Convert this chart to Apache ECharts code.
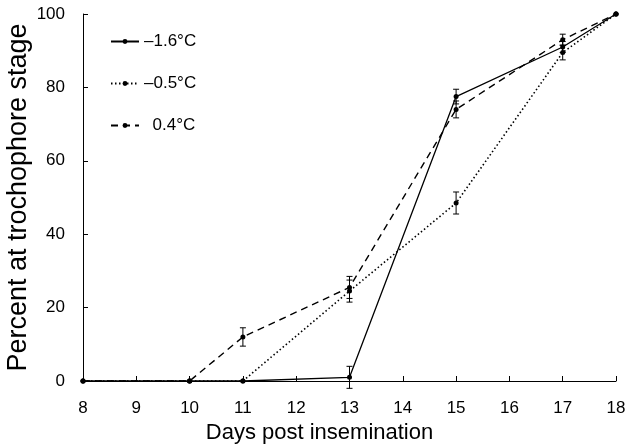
<!DOCTYPE html>
<html>
<head>
<meta charset="utf-8">
<script src="https://cdn.jsdelivr.net/npm/echarts@6/dist/echarts.min.js"></script>
<style>
  html, body { margin: 0; padding: 0; background: #fff; }
  #chart { width: 627px; height: 446px; }
</style>
</head>
<body>
<div id="chart"></div>
<script>
// days post insemination
var days = [8, 10, 11, 13, 15, 17, 18]

// percent at trochophore stage, per temperature
var minus16 = [0, 0, 0, 1, 77.5, 91, 100]
var minus05 = [0, 0, 0, 24.5, 48.5, 89.5, 100]
var plus04 = [0, 0, 12, 25.5, 74, 93, 100]

// error bar half-widths (0 = no bar drawn)
var minus16Err = [0, 0, 0, 3, 2, 1.5, 0]
var minus05Err = [0, 0, 0, 3, 3, 2, 0]
var plus04Err = [0, 0, 2.5, 3, 2.3, 1.5, 0]

var seriesNames = ['\u20131.6\u00b0C', '\u20130.5\u00b0C', '\u20020.4\u00b0C']

var xTicks = { min: 8, max: 18, interval: 1 }
var yTicks = { min: 0, max: 100, interval: 20 }

var font = 'Liberation Sans, Arial, Helvetica, sans-serif'

function pairs(values) {
  return days.map(function (d, i) { return [d, values[i]] })
}

function errData(values, errs) {
  var out = []
  days.forEach(function (d, i) {
    if (errs[i] > 0) out.push([d, values[i] - errs[i], values[i] + errs[i]])
  })
  return out
}

// draws a vertical error bar with small caps
function renderErr(params, api) {
  var lo = api.coord([api.value(0), api.value(1)])
  var hi = api.coord([api.value(0), api.value(2)])
  var w = 3
  var style = { stroke: '#000', lineWidth: 1 }
  return {
    type: 'group',
    children: [
      { type: 'line', shape: { x1: lo[0], y1: lo[1], x2: hi[0], y2: hi[1] }, style: style },
      { type: 'line', shape: { x1: lo[0] - w, y1: lo[1], x2: lo[0] + w, y2: lo[1] }, style: style },
      { type: 'line', shape: { x1: hi[0] - w, y1: hi[1], x2: hi[0] + w, y2: hi[1] }, style: style }
    ]
  }
}

function lineSeries(name, values, type, width) {
  return {
    name: name,
    type: 'line',
    data: pairs(values),
    symbol: 'circle',
    symbolSize: 5,
    itemStyle: { color: '#000' },
    lineStyle: { color: '#000', width: width, type: type },
    z: 3
  }
}

function errSeries(values, errs) {
  return {
    type: 'custom',
    renderItem: renderErr,
    data: errData(values, errs),
    encode: { x: 0, y: [1, 2] },
    silent: true,
    z: 4
  }
}

var chart = echarts.init(document.getElementById('chart'))

chart.setOption({
  animation: false,
  textStyle: { fontFamily: font, color: '#000' },
  grid: { left: 83, right: 11, top: 14, bottom: 65, outerBoundsMode: 'none', containLabel: false },
  legend: {
    orient: 'vertical',
    left: 105,
    top: 28,
    itemGap: 25,
    itemWidth: 28,
    itemHeight: 6,
    data: seriesNames,
    textStyle: { fontSize: 17, color: '#000', fontFamily: font }
  },
  xAxis: {
    type: 'value',
    min: xTicks.min,
    max: xTicks.max,
    interval: xTicks.interval,
    name: 'Days post insemination',
    nameLocation: 'middle',
    nameGap: 38,
    nameTextStyle: { fontSize: 22, color: '#000', padding: [0, 60, 0, 0] },
    axisLine: { lineStyle: { color: '#000', width: 1 } },
    axisTick: { inside: true, length: 5, lineStyle: { color: '#000' } },
    axisLabel: { fontSize: 17, color: '#000', margin: 19 },
    splitLine: { show: false }
  },
  yAxis: {
    type: 'value',
    min: yTicks.min,
    max: yTicks.max,
    interval: yTicks.interval,
    name: 'Percent at trochophore stage',
    nameLocation: 'middle',
    nameMoveOverlap: false,
    nameGap: 51,
    nameTextStyle: { fontSize: 27, color: '#000' },
    axisLine: { show: true, lineStyle: { color: '#000', width: 1 } },
    axisTick: { show: true, inside: true, length: 5, lineStyle: { color: '#000' } },
    axisLabel: { fontSize: 17, color: '#000', margin: 18 },
    splitLine: { show: false }
  },
  series: [
    lineSeries(seriesNames[0], minus16, 'solid', 1.3),
    lineSeries(seriesNames[1], minus05, [1.5, 2.5], 1.6),
    lineSeries(seriesNames[2], plus04, [7, 5], 1.4),
    errSeries(minus16, minus16Err),
    errSeries(minus05, minus05Err),
    errSeries(plus04, plus04Err)
  ]
})
</script>
</body>
</html>
